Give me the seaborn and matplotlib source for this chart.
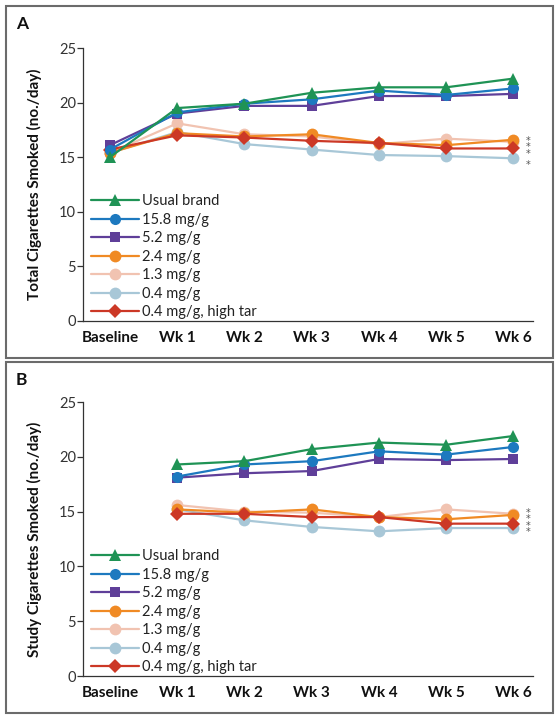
import numpy as np
import pandas as pd
import matplotlib
matplotlib.use("Agg")
import matplotlib.pyplot as plt
from matplotlib.patches import Rectangle
import seaborn as sns

weeks = ["Baseline", "Wk 1", "Wk 2", "Wk 3", "Wk 4", "Wk 5", "Wk 6"]
groups = ["Usual brand", "15.8 mg/g", "5.2 mg/g", "2.4 mg/g", "1.3 mg/g",
          "0.4 mg/g", "0.4 mg/g, high tar"]

# Panel A: total cigarettes smoked
total_usual = [15.0, 19.5, 19.9, 20.9, 21.4, 21.4, 22.2]
total_158 = [15.7, 19.1, 19.9, 20.3, 21.1, 20.7, 21.3]
total_52 = [16.1, 19.0, 19.7, 19.7, 20.6, 20.6, 20.8]
total_24 = [15.4, 17.2, 16.9, 17.1, 16.3, 16.1, 16.6]
total_13 = [15.4, 18.1, 17.1, 16.9, 16.2, 16.7, 16.4]
total_04 = [15.4, 17.3, 16.2, 15.7, 15.2, 15.1, 14.9]
total_04ht = [15.7, 17.0, 16.8, 16.5, 16.3, 15.8, 15.8]

# Panel B: study cigarettes smoked (no baseline)
study_usual = [np.nan, 19.3, 19.6, 20.7, 21.3, 21.1, 21.9]
study_158 = [np.nan, 18.2, 19.3, 19.6, 20.5, 20.2, 20.9]
study_52 = [np.nan, 18.1, 18.5, 18.7, 19.8, 19.7, 19.8]
study_24 = [np.nan, 15.2, 14.9, 15.2, 14.5, 14.3, 14.7]
study_13 = [np.nan, 15.6, 15.0, 14.9, 14.5, 15.2, 14.8]
study_04 = [np.nan, 15.2, 14.2, 13.6, 13.2, 13.5, 13.5]
study_04ht = [np.nan, 14.8, 14.8, 14.5, 14.5, 13.9, 13.9]

panel_labels = ["A", "B"]
ylabels = ["Total Cigarettes Smoked (no./day)", "Study Cigarettes Smoked (no./day)"]
yticks = [0, 5, 10, 15, 20, 25]

colors = {"Usual brand": "#1f9355", "15.8 mg/g": "#1d79bf", "5.2 mg/g": "#5f3f99",
          "2.4 mg/g": "#f08a24", "1.3 mg/g": "#f1c3b1", "0.4 mg/g": "#a8c7d7",
          "0.4 mg/g, high tar": "#cc3826"}
markers = {"Usual brand": "^", "15.8 mg/g": "o", "5.2 mg/g": "s", "2.4 mg/g": "o",
           "1.3 mg/g": "o", "0.4 mg/g": "o", "0.4 mg/g, high tar": "D"}
msize = {"Usual brand": 9, "15.8 mg/g": 8, "5.2 mg/g": 7.5, "2.4 mg/g": 8.5,
         "1.3 mg/g": 8.5, "0.4 mg/g": 8.5, "0.4 mg/g, high tar": 7}

def long_df(series):
    rows = []
    for g, vals in zip(groups, series):
        for i, (w, v) in enumerate(zip(weeks, vals)):
            rows.append({"group": g, "week": w, "x": i, "value": v})
    return pd.DataFrame(rows)

data_a = long_df([total_usual, total_158, total_52, total_24, total_13, total_04, total_04ht])
data_b = long_df([study_usual, study_158, study_52, study_24, study_13, study_04, study_04ht])

sns.set_theme(style="white")
plt.rcParams["font.family"] = ["Lato", "DejaVu Sans"]

W, H = 558, 720
fig = plt.figure(figsize=(W / 100, H / 100), dpi=100)

draw_order = ["0.4 mg/g", "1.3 mg/g", "2.4 mg/g", "0.4 mg/g, high tar",
              "5.2 mg/g", "15.8 mg/g", "Usual brand"]

def make_panel(df, top_px, bot_px, box_top, box_bot, letter, ylabel, stars):
    fig.add_artist(Rectangle((6 / W, 1 - box_bot / H), (553 - 6) / W, (box_bot - box_top) / H,
                             transform=fig.transFigure, fill=False, edgecolor="#6b6b6b",
                             linewidth=1.5))
    fig.text(16 / W, 1 - (box_top + 18) / H, letter, fontsize=12.5, fontweight="bold",
             va="center", ha="left", color="#111")
    ax = fig.add_axes([83 / W, 1 - bot_px / H, (533 - 83) / W, (bot_px - top_px) / H])
    for z, g in enumerate(draw_order):
        sub = df[df["group"] == g].dropna()
        sns.lineplot(data=sub, x="x", y="value", ax=ax, color=colors[g], marker=markers[g],
                     markersize=msize[g], markeredgewidth=0, linewidth=1.6,
                     label=g, zorder=2 + z, sort=False, estimator=None)
    ax.set_xlim(-0.40, 6.29)
    ax.set_ylim(0, 25)
    ax.set_yticks(yticks)
    ax.set_yticklabels([str(t) for t in yticks], fontsize=10.5, color="#333")
    ax.set_xticks(range(len(weeks)))
    ax.set_xticklabels(weeks, fontsize=11, fontweight="bold", color="#111")
    ax.tick_params(axis="y", length=4, width=0.9, color="#333", pad=1, left=True)
    ax.tick_params(axis="x", length=0, pad=7)
    for s in ["top", "right"]:
        ax.spines[s].set_visible(False)
    for s in ["left", "bottom"]:
        ax.spines[s].set_color("#333")
        ax.spines[s].set_linewidth(0.9)
    ax.set_xlabel("")
    ax.set_ylabel(ylabel, fontsize=11, fontweight="bold", color="#111")
    ax.yaxis.set_label_coords(-0.092, 0.5)
    handles, labels = ax.get_legend_handles_labels()
    order = [labels.index(g) for g in groups]
    leg = ax.legend([handles[i] for i in order], [labels[i] for i in order],
                    loc="lower left", bbox_to_anchor=(0.005, -0.015), frameon=False,
                    fontsize=10.5, handlelength=3.3, handletextpad=0.2,
                    labelspacing=0.31, borderaxespad=0.0)
    for t in leg.get_texts():
        t.set_color("#222")
    for xs, ys, txt in stars:
        ax.text(xs, ys, txt, fontsize=7, color="#555", ha="center", va="center",
                family="DejaVu Sans", linespacing=0.55)
    ax.patch.set_alpha(0)
    return ax

make_panel(data_a, 48, 321, 6, 358, panel_labels[0], ylabels[0],
           [(6.22, 15.9, "*\n*\n*"), (6.22, 14.3, "*")])
make_panel(data_b, 402, 676, 362, 713, panel_labels[1], ylabels[1],
           [(6.22, 14.0, "*\n*\n*\n*")])

fig.savefig("out.png", dpi=100)
